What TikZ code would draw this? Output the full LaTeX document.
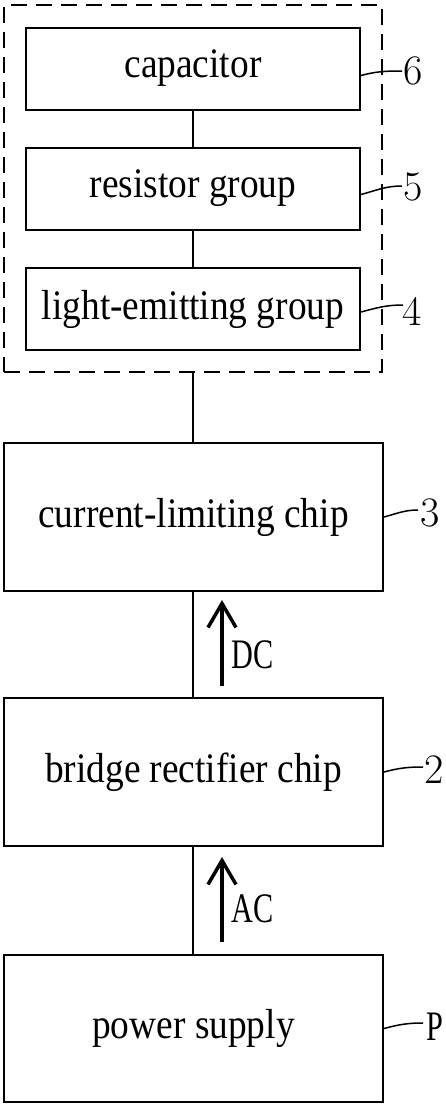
\documentclass[tikz,border=0pt]{standalone}
\usepackage{fontspec}
\usetikzlibrary{arrows.meta,calc}
\newfontfamily\boxfont[FakeStretch=0.89]{Liberation Serif}
\newfontfamily\dcfont[FakeStretch=0.72]{Liberation Serif}
\begin{document}
\begin{tikzpicture}[x=1pt,y=-1pt,
  smallbox/.style={draw,line width=2pt,minimum width=334pt,minimum height=82pt,inner sep=0pt,font=\boxfont\fontsize{42}{48}\selectfont},
  bigbox/.style={draw,line width=2pt,minimum width=379pt,minimum height=148pt,inner sep=0pt,font=\boxfont\fontsize{42}{48}\selectfont},
  wire/.style={line width=1.5pt},
  leader/.style={line width=1.5pt},
  numlabel/.style={anchor=west,inner sep=0pt,font=\fontsize{42}{48}\selectfont},
  flowarrow/.style={line width=3.5pt,-{Straight Barb[length=24pt,width=28pt]}},
  flowlabel/.style={inner sep=0pt,font=\dcfont\fontsize{42}{48}\selectfont}]
\useasboundingbox (0,0) rectangle (445,1104);
% dashed group
\node[draw,dashed,dash pattern=on 16pt off 9pt,line width=2pt,minimum width=378pt,minimum height=367pt,inner sep=0pt] (grp) at (193,188.5) {};
\node[smallbox] (cap) at (193,68.5) {capacitor};
\node[smallbox] (res) at (193,188.5) {resistor group};
\node[smallbox] (led) at (193,309) {light-emitting group};
\node[bigbox] (clc) at (193.5,517) {current-limiting chip};
\node[bigbox] (brc) at (193.5,772) {bridge rectifier chip};
\node[bigbox,minimum height=147pt] (pws) at (193.5,1028.5) {power supply};
% connectors
\draw[wire] (cap.south) -- (res.north);
\draw[wire] (res.south) -- (led.north);
\draw[wire] (grp.south) -- (grp.south |- clc.north);
\draw[wire] (clc.south -| 193,0) -- (brc.north -| 193,0);
\draw[wire] (brc.south -| 193,0) -- (pws.north -| 193,0);
% flow arrows
\coordinate (dcA) at (222,686);
\coordinate (dcB) at (222,600);
\coordinate (acA) at (222,942);
\coordinate (acB) at (222,857);
\draw[flowarrow] (dcA) -- (dcB);
\draw[flowarrow] (acA) -- (acB);
\node[flowlabel] (dct) at (253,655) {DC};
\node[flowlabel] (act) at (253,909) {AC};
% labels
\node[numlabel] (l6) at (403,71) {6};
\node[numlabel] (l5) at (403,187) {5};
\node[numlabel] (l4) at (402,311) {4};
\node[numlabel] (l3) at (420,513) {3};
\node[numlabel] (l2) at (424,770) {2};
\node[numlabel,font=\dcfont\fontsize{42}{48}\selectfont] (lP) at (426,1027) {P};
\draw[leader] ($(cap.east)+(0,7)$) to[out=15,in=180] ($(l6.west)+(-1,0)$);
\draw[leader] ($(res.east)+(0,6)$) to[out=15,in=180] ($(l5.west)+(-1,-1)$);
\draw[leader] ($(led.east)+(0,3)$) to[out=15,in=180] ($(l4.west)+(1,-6)$);
\draw[leader] (clc.east) to[out=15,in=180] ($(l3.west)+(-2,-3)$);
\draw[leader] (brc.east) to[out=15,in=180] ($(l2.west)+(-1,-3)$);
\draw[leader] (pws.east) to[out=15,in=180] ($(lP.west)+(-3,-4)$);
\end{tikzpicture}
\end{document}
